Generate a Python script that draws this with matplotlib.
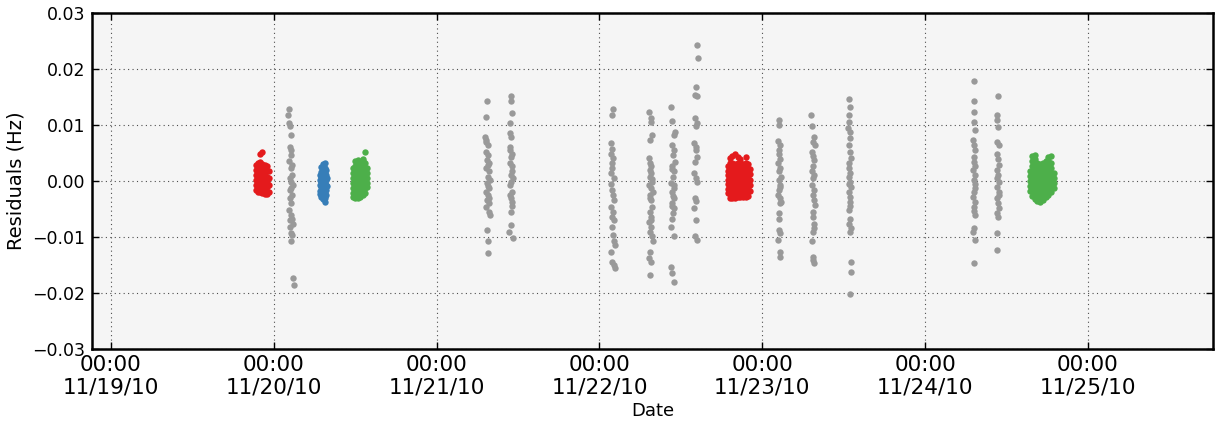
import matplotlib
matplotlib.use('Agg')
import matplotlib.pyplot as plt
import matplotlib.dates as mdates
import matplotlib.ticker as mticker
from datetime import datetime, timedelta

# residuals are in mHz, offsets in minutes from the start of each pass
GREY, RED, BLUE, GREEN = '#999999', '#e41a1c', '#377eb8', '#4daf4a'

# sparse passes: (minute offset, residual mHz)
g1_start = datetime(2010, 11, 20, 2, 0)
g1 = [(10, 12.8), (5, 11.8), (15, 10.3), (25, 9.8), (30, 8.2), (20, 6.1), (35, 5.5), (28, 4.6),
      (18, 3.5), (40, 2.9), (30, 2.3), (45, 1.1), (25, 0.5), (35, -0.1), (50, -0.7), (30, -1.3),
      (20, -1.6), (40, -2.5), (25, -3.1), (35, -4.0), (15, -5.2), (30, -6.1), (45, -6.7), (25, -7.0),
      (50, -7.6), (20, -8.2), (35, -9.3), (45, -9.6), (30, -10.8), (50, -17.4), (60, -18.5)]
g2_start = datetime(2010, 11, 21, 7, 5)
g2 = [(20, 14.3), (15, 11.5), (5, 7.9), (15, 7.3), (25, 6.4), (10, 6.9), (10, 5.2), (30, 4.6),
      (20, 3.75), (35, 3.2), (25, 2.8), (15, 2.3), (40, 1.7), (25, 0.8), (45, 0.2), (20, -0.4),
      (30, -0.9), (35, -1.3), (10, -1.9), (30, -2.5), (40, -3.0), (20, -3.4), (40, -4.0), (15, -4.6),
      (35, -5.5), (45, -6.1), (20, -8.75), (30, -10.8), (25, -12.9)]
g3_start = datetime(2010, 11, 21, 10, 30)
g3 = [(25, 15.1), (30, 14.2), (35, 12.1), (20, 10.3), (15, 8.5), (30, 7.9), (20, 6.1), (20, 5.6),
      (35, 4.9), (25, 4.3), (15, 3.2), (40, 2.6), (35, 1.8), (30, 1.1), (45, 0.5), (25, -0.1),
      (20, -0.7), (35, -1.9), (15, -2.5), (30, -3.0), (40, -3.7), (40, -4.5), (30, -5.5), (25, -7.9),
      (10, -9.05), (45, -10.2)]
g4_start = datetime(2010, 11, 22, 1, 30)
g4 = [(30, 12.9), (20, 11.8), (15, 6.7), (25, 5.8), (10, 4.9), (30, 4.05), (20, 3.2), (25, 2.3),
      (15, 1.4), (35, 0.5), (10, -0.5), (20, -1.6), (30, -2.5), (40, -3.4), (15, -4.6), (30, -5.5),
      (25, -6.4), (35, -7.0), (20, -8.2), (30, -9.6), (40, -10.8), (45, -11.4), (15, -12.6),
      (25, -14.4), (35, -15.0), (45, -15.6)]
g5_start = datetime(2010, 11, 22, 7, 5)
g5 = [(15, 12.4), (30, 11.2), (35, 10.5), (40, 8.2), (20, 7.3), (15, 4.05), (25, 3.3), (30, 2.6),
      (20, 2.0), (35, 1.4), (25, 0.8), (40, 0.3), (40, -0.1), (15, -0.7), (30, -1.3), (45, -1.9),
      (25, -2.5), (20, -3.0), (35, -3.4), (40, -4.6), (20, -5.5), (30, -6.4), (35, -6.9), (15, -7.3),
      (35, -8.2), (25, -9.05), (40, -9.9), (45, -10.8), (20, -12.6), (15, -13.8), (30, -14.4),
      (20, -16.7)]
g6_start = datetime(2010, 11, 22, 10, 20)
g6 = [(15, 13.3), (25, 10.7), (45, 8.8), (35, 8.2), (25, 6.4), (40, 5.5), (30, 4.6), (45, 3.4),
      (20, 2.6), (20, 2.1), (35, 1.7), (30, 0.8), (15, -0.4), (35, -0.8), (40, -1.3), (25, -1.9),
      (30, -2.6), (35, -3.1), (20, -4.0), (25, -4.5), (40, -4.9), (30, -5.8), (25, -6.7), (15, -8.3),
      (40, -9.9), (15, -15.3), (25, -16.5), (35, -18.0)]
g7_start = datetime(2010, 11, 22, 13, 45)
g7 = [(35, 24.2), (45, 21.9), (30, 16.8), (20, 15.4), (35, 15.1), (20, 11.2), (40, 10.3),
      (30, 9.9), (15, 6.7), (30, 6.0), (25, 5.5), (35, 4.3), (20, 3.4), (10, 1.4), (25, 0.5),
      (40, -0.1), (20, -3.1), (25, -3.6), (15, -4.9), (30, -7.0), (20, -9.9), (35, -10.5)]
g8_start = datetime(2010, 11, 23, 2, 5)
g8 = [(20, 10.9), (25, 10.0), (15, 7.1), (30, 6.4), (25, 5.5), (20, 4.8), (35, 3.9), (15, 3.2),
      (30, 2.3), (25, 1.7), (40, 0.8), (20, 0.2), (35, -0.7), (30, -1.1), (25, -1.6), (15, -2.5),
      (35, -3.0), (40, -3.7), (30, -4.0), (20, -5.8), (25, -6.7), (20, -8.75), (30, -9.3),
      (15, -10.5), (30, -12.6), (30, -13.5)]
g9_start = datetime(2010, 11, 23, 7, 0)
g9 = [(15, 11.8), (20, 9.9), (40, 7.9), (30, 7.0), (45, 6.4), (20, 5.2), (30, 4.5), (35, 3.75),
      (25, 2.6), (20, 1.7), (40, 1.1), (30, 0.5), (20, -0.7), (35, -1.6), (25, -2.5), (35, -3.4),
      (45, -4.3), (30, -5.5), (25, -6.5), (40, -7.6), (35, -8.4), (25, -9.05), (20, -10.8),
      (25, -13.5), (30, -14.1), (35, -14.7)]
g10_start = datetime(2010, 11, 23, 12, 25)
g10 = [(25, 14.6), (30, 13.2), (20, 11.8), (25, 10.6), (15, 9.4), (30, 8.8), (35, 7.6), (20, 6.4),
       (30, 5.2), (40, 4.05), (25, 3.2), (25, 2.3), (35, 1.4), (20, 0.8), (30, -0.1), (20, -0.5),
       (40, -1.0), (25, -1.9), (35, -2.8), (30, -3.7), (35, -4.5), (20, -5.2), (30, -6.7),
       (25, -7.6), (40, -8.4), (35, -9.05), (40, -14.5), (40, -16.2), (35, -20.1)]
g11_start = datetime(2010, 11, 24, 6, 50)
g11 = [(25, 17.9), (20, 14.2), (25, 12.4), (20, 10.6), (30, 9.1), (15, 7.3), (25, 6.4), (35, 5.5),
       (20, 4.3), (20, 3.4), (30, 2.6), (15, 2.0), (35, 1.1), (25, 0.2), (35, -0.5), (30, -1.3),
       (25, -2.0), (15, -2.8), (35, -3.7), (25, -4.6), (20, -5.3), (30, -6.1), (20, -8.4),
       (15, -9.05), (30, -10.5), (25, -14.6)]
g12_start = datetime(2010, 11, 24, 10, 15)
g12 = [(30, 15.2), (25, 11.8), (20, 10.9), (30, 9.7), (25, 7.0), (35, 6.4), (20, 4.9), (30, 3.9),
       (35, 2.9), (25, 2.0), (30, 1.1), (25, 0.5), (40, -0.1), (20, -1.0), (35, -1.9), (35, -2.5),
       (25, -3.1), (30, -4.0), (40, -4.9), (20, -5.8), (30, -6.4), (25, -9.3), (25, -12.3)]

# dense passes: (minute offset, residuals mHz at that time)
r1_start = datetime(2010, 11, 19, 21, 20)
r1 = [(0, [2.8, 1.9, 1.0, 0.1, -0.8, -1.6]),
      (18, [3.3, 2.4, 1.5, 0.6, -0.3, -1.2, -2.0]),
      (36, [3.4, 2.5, 1.6, 0.7, -0.2, -1.1, -2.0, 4.8]),
      (56, [3.0, 2.1, 1.2, 0.3, -0.6, -1.5, -2.2, 5.1]),
      (78, [2.9, 2.0, 1.1, 0.2, -0.7, -1.6, -2.3]),
      (100, [2.6, 1.7, 0.8, -0.1, -1.0, -1.9, -2.4]),
      (115, [1.8, 0.5, -0.8, -1.9])]
b1_start = datetime(2010, 11, 20, 6, 45)
b1 = [(0, [1.0, 0.1, -0.8, -1.7, -2.3]),
      (15, [2.5, 1.6, 0.7, -0.2, -1.1, -2.0, -2.8]),
      (30, [3.0, 2.1, 1.2, 0.3, -0.6, -1.5, -2.4, -3.2]),
      (45, [3.3, 2.4, 1.5, 0.6, -0.3, -1.2, -2.1, -3.0, -3.7]),
      (58, [2.0, 1.1, 0.2, -0.7, -1.6, -2.5]),
      (66, [0.5, -0.9])]
gr1_start = datetime(2010, 11, 20, 11, 40)
gr1 = [(0, [2.4, 1.5, 0.6, -0.3, -1.2, -2.1, -2.8]),
       (22, [3.6, 2.7, 1.8, 0.9, 0.0, -0.9, -1.8, -2.7, -3.1]),
       (44, [3.8, 2.9, 2.0, 1.1, 0.2, -0.7, -1.6, -2.5, -3.0]),
       (66, [3.4, 2.5, 1.6, 0.7, -0.2, -1.1, -2.0, -2.8]),
       (88, [3.6, 2.7, 1.8, 0.9, 0.0, -0.9, -1.8, -2.5, 4.0]),
       (110, [3.2, 2.3, 1.4, 0.5, -0.4, -1.3, -2.2, 5.1]),
       (128, [2.4, 1.5, 0.6, -0.3, -1.0])]
r2_start = datetime(2010, 11, 22, 18, 55)
r2 = [(0, [2.6, 1.8, 1.0, 0.2, -0.6, -1.4, -2.2]),
      (20, [3.2, 2.4, 1.6, 0.8, 0.0, -0.8, -1.6, -2.4, -3.0, 4.1]),
      (40, [3.3, 2.5, 1.7, 0.9, 0.1, -0.7, -1.5, -2.3, -3.1, 4.4]),
      (64, [3.0, 2.2, 1.4, 0.6, -0.2, -1.0, -1.8, -2.6, -3.0, 4.9]),
      (88, [3.2, 2.4, 1.6, 0.8, 0.0, -0.8, -1.6, -2.4, -2.9, 4.3]),
      (112, [3.4, 2.6, 1.8, 1.0, 0.2, -0.6, -1.4, -2.2, -2.9, 3.9]),
      (136, [3.1, 2.3, 1.5, 0.7, -0.1, -0.9, -1.7, -2.5, -2.9]),
      (160, [3.3, 2.5, 1.7, 0.9, 0.1, -0.7, -1.5, -2.3, -2.8, 4.2]),
      (180, [3.0, 2.2, 1.4, 0.6, -0.2, -1.0, -1.8, -2.6]),
      (195, [2.2, 1.2, 0.2, -0.8, -1.8])]
gr2_start = datetime(2010, 11, 24, 15, 25)
gr2 = [(0, [1.8, 0.9, 0.0, -0.9, -1.8]),
       (24, [3.6, 2.7, 1.8, 0.9, 0.0, -0.9, -1.8, -2.6, 4.4]),
       (44, [3.9, 3.0, 2.1, 1.2, 0.3, -0.6, -1.5, -2.4, -3.2, 4.6]),
       (68, [3.2, 2.3, 1.4, 0.5, -0.4, -1.3, -2.2, -3.1, -3.5]),
       (92, [3.0, 2.1, 1.2, 0.3, -0.6, -1.5, -2.4, -3.3, -3.7]),
       (116, [3.3, 2.4, 1.5, 0.6, -0.3, -1.2, -2.1, -3.0, -3.4]),
       (140, [3.5, 2.6, 1.7, 0.8, -0.1, -1.0, -1.9, -2.8]),
       (164, [3.8, 2.9, 2.0, 1.1, 0.2, -0.7, -1.6, -2.5, 4.2]),
       (188, [3.3, 2.4, 1.5, 0.6, -0.3, -1.2, -2.0, 4.5]),
       (212, [1.5, 0.6, -0.4, -1.3])]

sparse = [(g1_start, g1), (g2_start, g2), (g3_start, g3), (g4_start, g4), (g5_start, g5),
          (g6_start, g6), (g7_start, g7), (g8_start, g8), (g9_start, g9), (g10_start, g10),
          (g11_start, g11), (g12_start, g12)]
dense = [(r1_start, r1, RED), (b1_start, b1, BLUE), (gr1_start, gr1, GREEN),
         (r2_start, r2, RED), (gr2_start, gr2, GREEN)]

fig = plt.figure(figsize=(12.15, 4.28), dpi=100)
ax = fig.add_axes([92 / 1215, 1 - 349 / 428, (1213 - 92) / 1215, (349 - 13) / 428])
ax.set_facecolor('#f5f5f5')

MS = 4.6
for start, pts in sparse:
    t = [start + timedelta(minutes=m) for m, v in pts]
    r = [v * 1e-3 for m, v in pts]
    ax.plot(t, r, 'o', color=GREY, ms=MS, mew=0, zorder=3)

for start, cols, c in dense:
    t, r = [], []
    for m, vals in cols:
        for v in vals:
            t.append(start + timedelta(minutes=m))
            r.append(v * 1e-3)
    ax.plot(t, r, 'o', color=c, ms=MS, mew=0, zorder=3)

ax.set_xlim(datetime(2010, 11, 18, 21, 12), datetime(2010, 11, 25, 18, 26))
ax.set_ylim(-0.03, 0.03)
ax.xaxis.set_major_locator(mdates.DayLocator())
ax.xaxis.set_major_formatter(mdates.DateFormatter('%H:%M\n%m/%d/%y'))
ax.yaxis.set_major_locator(mticker.MultipleLocator(0.01))
ax.yaxis.set_major_formatter(mticker.FuncFormatter(lambda v, p: f'{v:.2f}'.replace('-', '\u2212')))

ax.grid(True, linestyle=(0, (1, 3)), color='0.3', linewidth=0.8)
for s in ax.spines.values():
    s.set_linewidth(1.8)
ax.tick_params(direction='in', length=5, width=1, top=True, right=True)
ax.tick_params(axis='x', labelsize=15.5, pad=4)
ax.tick_params(axis='y', labelsize=12.5, pad=5)
ax.set_xlabel('Date', fontsize=13, labelpad=3)
ax.set_ylabel('Residuals (Hz)', fontsize=14, labelpad=5)

plt.savefig('out.png', dpi=100, facecolor='white')
